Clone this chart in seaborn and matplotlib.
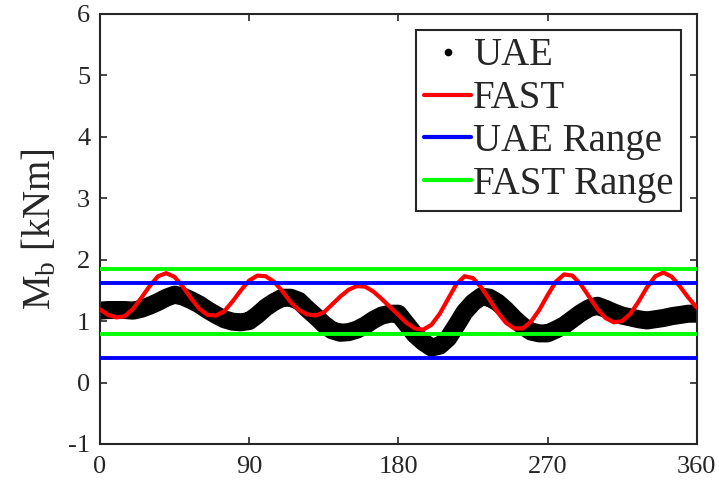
import numpy as np
import matplotlib
matplotlib.use("Agg")
import matplotlib.pyplot as plt
from matplotlib.lines import Line2D
import seaborn as sns
import pandas as pd

# azimuth angle [deg], sampled every 5 deg
azimuth = list(range(0, 361, 5))

# UAE measurement (centre of the scattered band), kNm
uae = [1.17, 1.18, 1.18, 1.18, 1.17, 1.20, 1.25, 1.31, 1.38, 1.43,
       1.40, 1.34, 1.27, 1.18, 1.10, 1.03, 0.99, 0.98, 1.00, 1.10,
       1.22, 1.31, 1.38, 1.38, 1.33, 1.20, 1.08, 0.95, 0.85, 0.81,
       0.82, 0.86, 0.93, 1.02, 1.09, 1.12, 1.12, 0.95, 0.78, 0.66,
       0.57, 0.60, 0.72, 0.93, 1.15, 1.30, 1.40, 1.38, 1.30, 1.18,
       1.04, 0.92, 0.83, 0.80, 0.80, 0.86, 0.93, 1.03, 1.13, 1.21,
       1.25, 1.20, 1.14, 1.09, 1.06, 1.03, 1.01, 1.03, 1.05, 1.08,
       1.10, 1.12, 1.12]

# FAST simulation, kNm
fast = [1.19, 1.10, 1.06, 1.08, 1.20, 1.38, 1.57, 1.73, 1.78, 1.72,
        1.56, 1.37, 1.20, 1.10, 1.09, 1.16, 1.32, 1.50, 1.66, 1.74,
        1.73, 1.64, 1.49, 1.31, 1.18, 1.11, 1.09, 1.14, 1.27, 1.40,
        1.51, 1.57, 1.56, 1.48, 1.36, 1.23, 1.10, 0.97, 0.88, 0.86,
        0.94, 1.12, 1.36, 1.60, 1.73, 1.70, 1.55, 1.35, 1.14, 0.97,
        0.88, 0.88, 0.99, 1.18, 1.42, 1.64, 1.76, 1.74, 1.60, 1.40,
        1.20, 1.05, 0.98, 1.00, 1.12, 1.32, 1.55, 1.73, 1.79, 1.72,
        1.56, 1.38, 1.22]

uae_range = [0.40, 1.62]
fast_range = [0.79, 1.84]

df = pd.DataFrame({"azimuth": azimuth, "UAE": uae, "FAST": fast})

sns.set_style("ticks")
plt.rcParams["font.family"] = ["Liberation Serif", "DejaVu Serif"]
plt.rcParams["mathtext.fontset"] = "custom"
plt.rcParams["mathtext.rm"] = "Liberation Serif"
plt.rcParams["mathtext.it"] = "Liberation Serif"
plt.rcParams["axes.unicode_minus"] = False

fig = plt.figure(figsize=(7.19, 4.82), dpi=100)
ax = fig.add_axes([0.139, 0.079, 0.830, 0.892])

sns.lineplot(data=df, x="azimuth", y="UAE", ax=ax, color="black",
             linewidth=13, zorder=2, legend=False)
sns.lineplot(data=df, x="azimuth", y="FAST", ax=ax, color="#ff0000",
             linewidth=3, zorder=3, legend=False)
for v in uae_range:
    ax.axhline(v, color="#0000ff", linewidth=2.8, zorder=4)
for v in fast_range:
    ax.axhline(v, color="#00ff00", linewidth=2.8, zorder=4)

ax.set_xlim(0, 360)
ax.set_ylim(-1, 6)
ax.set_xticks([0, 90, 180, 270, 360])
ax.set_yticks(range(-1, 7))
ax.set_xlabel("")
ax.set_ylabel(r"M$_\mathrm{b}$ [kNm]", fontsize=28, color="#262626",
              labelpad=6)
ax.tick_params(direction="in", length=5, width=1.2, labelsize=19,
               colors="#262626", top=True, right=True)
ax.tick_params(axis="x", pad=9)
ax.tick_params(axis="y", pad=7)
for s in ax.spines.values():
    s.set_linewidth(1.5)
    s.set_color("#262626")

handles = [
    Line2D([], [], marker=".", color="black", linestyle="None", markersize=9),
    Line2D([], [], color="#ff0000", linewidth=3),
    Line2D([], [], color="#0000ff", linewidth=3),
    Line2D([], [], color="#00ff00", linewidth=3),
]
leg = ax.legend(handles, ["UAE", "FAST", "UAE Range", "FAST Range"],
                loc="upper right", fontsize=28, fancybox=False,
                framealpha=1, edgecolor="#262626", handlelength=1.2,
                handletextpad=0.05, labelspacing=0.15, borderpad=0.2,
                borderaxespad=0.4)
leg.get_frame().set_linewidth(1.5)

fig.savefig("out.png", dpi=100)
